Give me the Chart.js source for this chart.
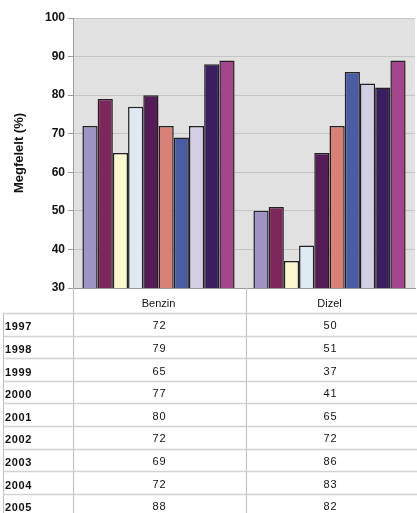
<!DOCTYPE html>
<html><head><meta charset="utf-8">
<script src="https://cdn.jsdelivr.net/npm/chart.js@4/dist/chart.umd.min.js"></script>
<style>html,body{margin:0;padding:0;background:#fff;overflow:hidden}#wrap{width:417px;height:513px;position:relative}</style>
</head><body><div id="wrap"><canvas id="c" width="417" height="513"></canvas></div>
<script>
const categories = ['Benzin', 'Dizel'];
const years = ['1997', '1998', '1999', '2000', '2001', '2002', '2003', '2004', '2005', '2006'];
const benzin = [72, 79, 65, 77, 80, 72, 69, 72, 88, 89];
const dizel = [50, 51, 37, 41, 65, 72, 86, 83, 82, 89];
const yAxisTitle = 'Megfelelt (%)';
const yMin = 30, yMax = 100, yStep = 10;
const colors = ['#9F93C5', '#7E275C', '#FBF8CF', '#DDEAF3', '#561C57', '#D98176', '#4A5CA4', '#D4CEE4', '#3A1E60', '#A3448D'];

const FONT = '"Liberation Sans", Arial, sans-serif';

const datasets = years.map((y, i) => ({
  label: y,
  data: [benzin[i], dizel[i]],
  backgroundColor: colors[i],
  borderColor: '#222222',
  borderWidth: 1.5
}));

const plotBg = {
  id: 'plotBg',
  beforeDraw(chart) {
    const {ctx, chartArea: a} = chart;
    ctx.save();
    ctx.fillStyle = '#E1E1E1';
    ctx.fillRect(a.left, a.top, a.right - a.left, a.bottom - a.top);
    ctx.restore();
  }
};

const dataTable = {
  id: 'dataTable',
  afterDraw(chart) {
    const {ctx, chartArea: a, scales} = chart;
    const xs = scales.x;
    const H = chart.height, W = chart.width;
    const c0 = xs.getPixelForValue(0), c1 = xs.getPixelForValue(1);
    const mid = Math.round((c0 + c1) / 2) + 2;
    const headerY = a.bottom + 25;
    const rowH = 22.6;
    ctx.save();
    ctx.strokeStyle = '#BDBDBD';
    ctx.lineWidth = 1;
    ctx.beginPath();
    ctx.moveTo(Math.round(a.left) + 0.5, a.bottom);
    ctx.lineTo(Math.round(a.left) + 0.5, H);
    ctx.moveTo(mid + 0.5, a.bottom);
    ctx.lineTo(mid + 0.5, H);
    ctx.moveTo(3.5, headerY);
    ctx.lineTo(3.5, H);
    ctx.stroke();
    ctx.strokeStyle = '#D2D2D2';
    ctx.lineWidth = 1.5;
    ctx.beginPath();
    for (let i = 0; i <= years.length; i++) {
      const y = Math.round(headerY + rowH * i) + 0.5;
      ctx.moveTo(3, y);
      ctx.lineTo(W, y);
    }
    ctx.stroke();
    ctx.textBaseline = 'middle';
    for (let i = 0; i < years.length; i++) {
      const yc = headerY + rowH * i + rowH / 2 + 3;
      ctx.fillStyle = '#111';
      ctx.font = 'bold 11px ' + FONT;
      ctx.textAlign = 'left';
      ctx.letterSpacing = '0.6px';
      ctx.fillText(years[i], 5, yc);
      ctx.font = '11px ' + FONT;
      ctx.textAlign = 'center';
      ctx.letterSpacing = '1px';
      ctx.fillText(String(benzin[i]), (a.left + mid) / 2, yc - 1);
      ctx.fillText(String(dizel[i]), (mid + a.right) / 2, yc - 1);
    }
    ctx.restore();
  }
};

new Chart(document.getElementById('c'), {
  type: 'bar',
  data: { labels: categories, datasets },
  options: {
    responsive: false,
    animation: false,
    devicePixelRatio: 1,
    layout: { padding: { top: 18, right: 2, left: 0, bottom: 0 } },
    plugins: { legend: { display: false }, tooltip: { enabled: false }, title: { display: false } },
    datasets: { bar: { categoryPercentage: 0.89, barPercentage: 1.0 } },
    scales: {
      x: {
        grid: { display: false },
        border: { display: true, color: '#9A9A9A' },
        ticks: { font: { family: FONT, size: 11 }, color: '#111', padding: 1 },
        afterFit(s) { s.height = 225; }
      },
      y: {
        min: yMin, max: yMax,
        ticks: { stepSize: yStep, font: { family: FONT, size: 12, weight: 'bold' }, color: '#111', padding: 3 },
        grid: { color: '#C5C5C5', tickLength: 5, tickColor: '#9A9A9A' },
        border: { display: true, color: '#9A9A9A' },
        title: { display: true, text: yAxisTitle, font: { family: FONT, size: 13, weight: 'bold' }, color: '#111', padding: { top: 12, bottom: 0 } },
        afterFit(s) { s.width = 73; }
      }
    }
  },
  plugins: [plotBg, dataTable]
});
</script>
</body></html>
